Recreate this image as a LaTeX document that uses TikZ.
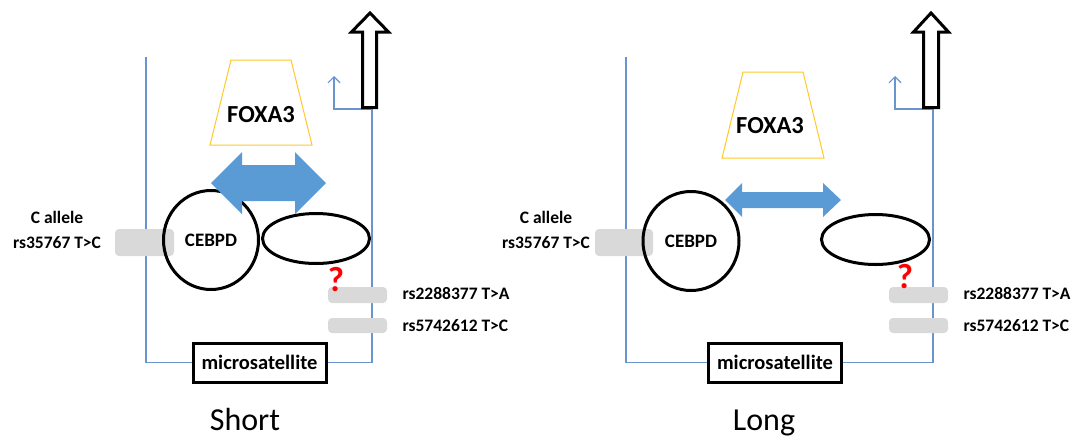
\documentclass[tikz,border=0pt]{standalone}
\usepackage{fontspec}
\setmainfont{Carlito}
\usetikzlibrary{arrows.meta,shapes.geometric}
\definecolor{dnablue}{RGB}{105,148,206}
\definecolor{armblue}{RGB}{91,155,213}
\definecolor{foxgold}{RGB}{255,200,40}
\definecolor{snpgray}{RGB}{217,217,217}
\begin{document}
\begin{tikzpicture}[x=1pt,y=-1pt,
    dna/.style={draw=dnablue,line width=1.1pt},
    tss/.style={dna,-{Straight Barb[length=6pt,width=12pt]}},
    bigarrow/.style={draw=black,line width=3pt,fill=white,line join=miter},
    foxa/.style={draw=foxgold,line width=1pt},
    factor/.style={draw=black,line width=3pt,ellipse,inner sep=0pt},
    snp/.style={fill=snpgray,rounded corners=4pt,inner sep=0pt},
    msat/.style={draw=black,line width=3pt,fill=white,minimum width=133pt,minimum height=39pt,font=\bfseries\fontsize{20.5}{24}\selectfont},
    lbl/.style={font=\bfseries\fontsize{17.5}{25}\selectfont,align=center},
    query/.style={text=red,font=\bfseries\fontsize{35}{36}\selectfont,inner sep=0pt},
    title/.style={font=\fontsize{32}{34}\selectfont,inner sep=0pt,anchor=base}]
    \useasboundingbox (0,0) rectangle (1079,437);

    % short allele
    \node[msat] (msatS) at (259.5,362.5) {microsatellite};
    \coordinate (topS) at (146,57);
    \coordinate (tssS) at (372,109);
    \draw[dna] (topS) |- (msatS.west);
    \draw[dna] (msatS.east) -| (tssS);
    \draw[tss] (tssS) -- ++(-38,0) -- ++(0,-33);
    \draw[bigarrow] (362.5,107.5) -- (362.5,32) -- (351.5,32) -- (370,13) -- (388.5,32) -- (376.5,32) -- (376.5,107.5) -- cycle;
    \draw[foxa] (231,60) -- (291,60) -- (312,145) -- (210,145) -- cycle;
    \node[font=\bfseries\fontsize{24.5}{28}\selectfont] (foxS) at (261,115) {FOXA3};
    \node[snp,minimum width=59pt,minimum height=27pt] (snpcS) at (144.5,242.5) {};
    \node[factor,minimum width=95pt,minimum height=99pt,font=\bfseries\fontsize{19}{22}\selectfont] (cebpdS) at (211,240) {CEBPD};
    \fill[armblue] (211,183) -- (242,152) -- (242,165) -- (295,165) -- (295,152) -- (326,183)
        -- (295,214) -- (295,201) -- (242,201) -- (242,214) -- cycle;
    \node[factor,minimum width=107pt,minimum height=50pt] (partS) at (316,238.5) {};
    \node[snp,minimum width=59pt,minimum height=16pt] (snpaS) at (357.5,295) {};
    \node[snp,minimum width=59pt,minimum height=15pt] (snpbS) at (357.5,325.5) {};
    \node[query] (qS) at (336,280) {?};
    \node[lbl] (alleleS) at (57,229.5) {C allele\\rs35767 T>C};
    \node[lbl,anchor=west] (rsaS) at (399,294) {rs2288377 T>A};
    \node[lbl,anchor=west] (rsbS) at (399,326) {rs5742612 T>C};
    \node[title] (shortS) at (245,430) {Short};

    % long allele
    \node[msat] (msatL) at (775,362.5) {microsatellite};
    \coordinate (topL) at (626,57);
    \coordinate (tssL) at (933,109);
    \draw[dna] (topL) |- (msatL.west);
    \draw[dna] (msatL.east) -| (tssL);
    \draw[tss] (tssL) -- ++(-38,0) -- ++(0,-33);
    \draw[bigarrow] (923.5,107.5) -- (923.5,32) -- (913.5,32) -- (931,13) -- (948.5,32) -- (938.5,32) -- (938.5,107.5) -- cycle;
    \draw[foxa] (743,72) -- (803,72) -- (824,158) -- (722,158) -- cycle;
    \node[font=\bfseries\fontsize{24.5}{28}\selectfont] (foxL) at (770,126) {FOXA3};
    \node[snp,minimum width=58pt,minimum height=27pt] (snpcL) at (624,242.5) {};
    \node[factor,minimum width=96pt,minimum height=99pt,font=\bfseries\fontsize{19}{22}\selectfont] (cebpdL) at (691,241) {CEBPD};
    \fill[armblue] (725,200) -- (742,183) -- (742,192) -- (823,192) -- (823,183) -- (841,200)
        -- (823,217) -- (823,208) -- (742,208) -- (742,217) -- cycle;
    \node[factor,minimum width=108pt,minimum height=50pt] (partL) at (875.5,239.5) {};
    \node[snp,minimum width=59pt,minimum height=16pt] (snpaL) at (918.5,295) {};
    \node[snp,minimum width=59pt,minimum height=15pt] (snpbL) at (918.5,325.5) {};
    \node[query] (qL) at (905,277) {?};
    \node[lbl] (alleleL) at (546,229.5) {C allele\\rs35767 T>C};
    \node[lbl,anchor=west] (rsaL) at (960,294) {rs2288377 T>A};
    \node[lbl,anchor=west] (rsbL) at (960,326) {rs5742612 T>C};
    \node[title] (longL) at (764,430) {Long};
\end{tikzpicture}
\end{document}
